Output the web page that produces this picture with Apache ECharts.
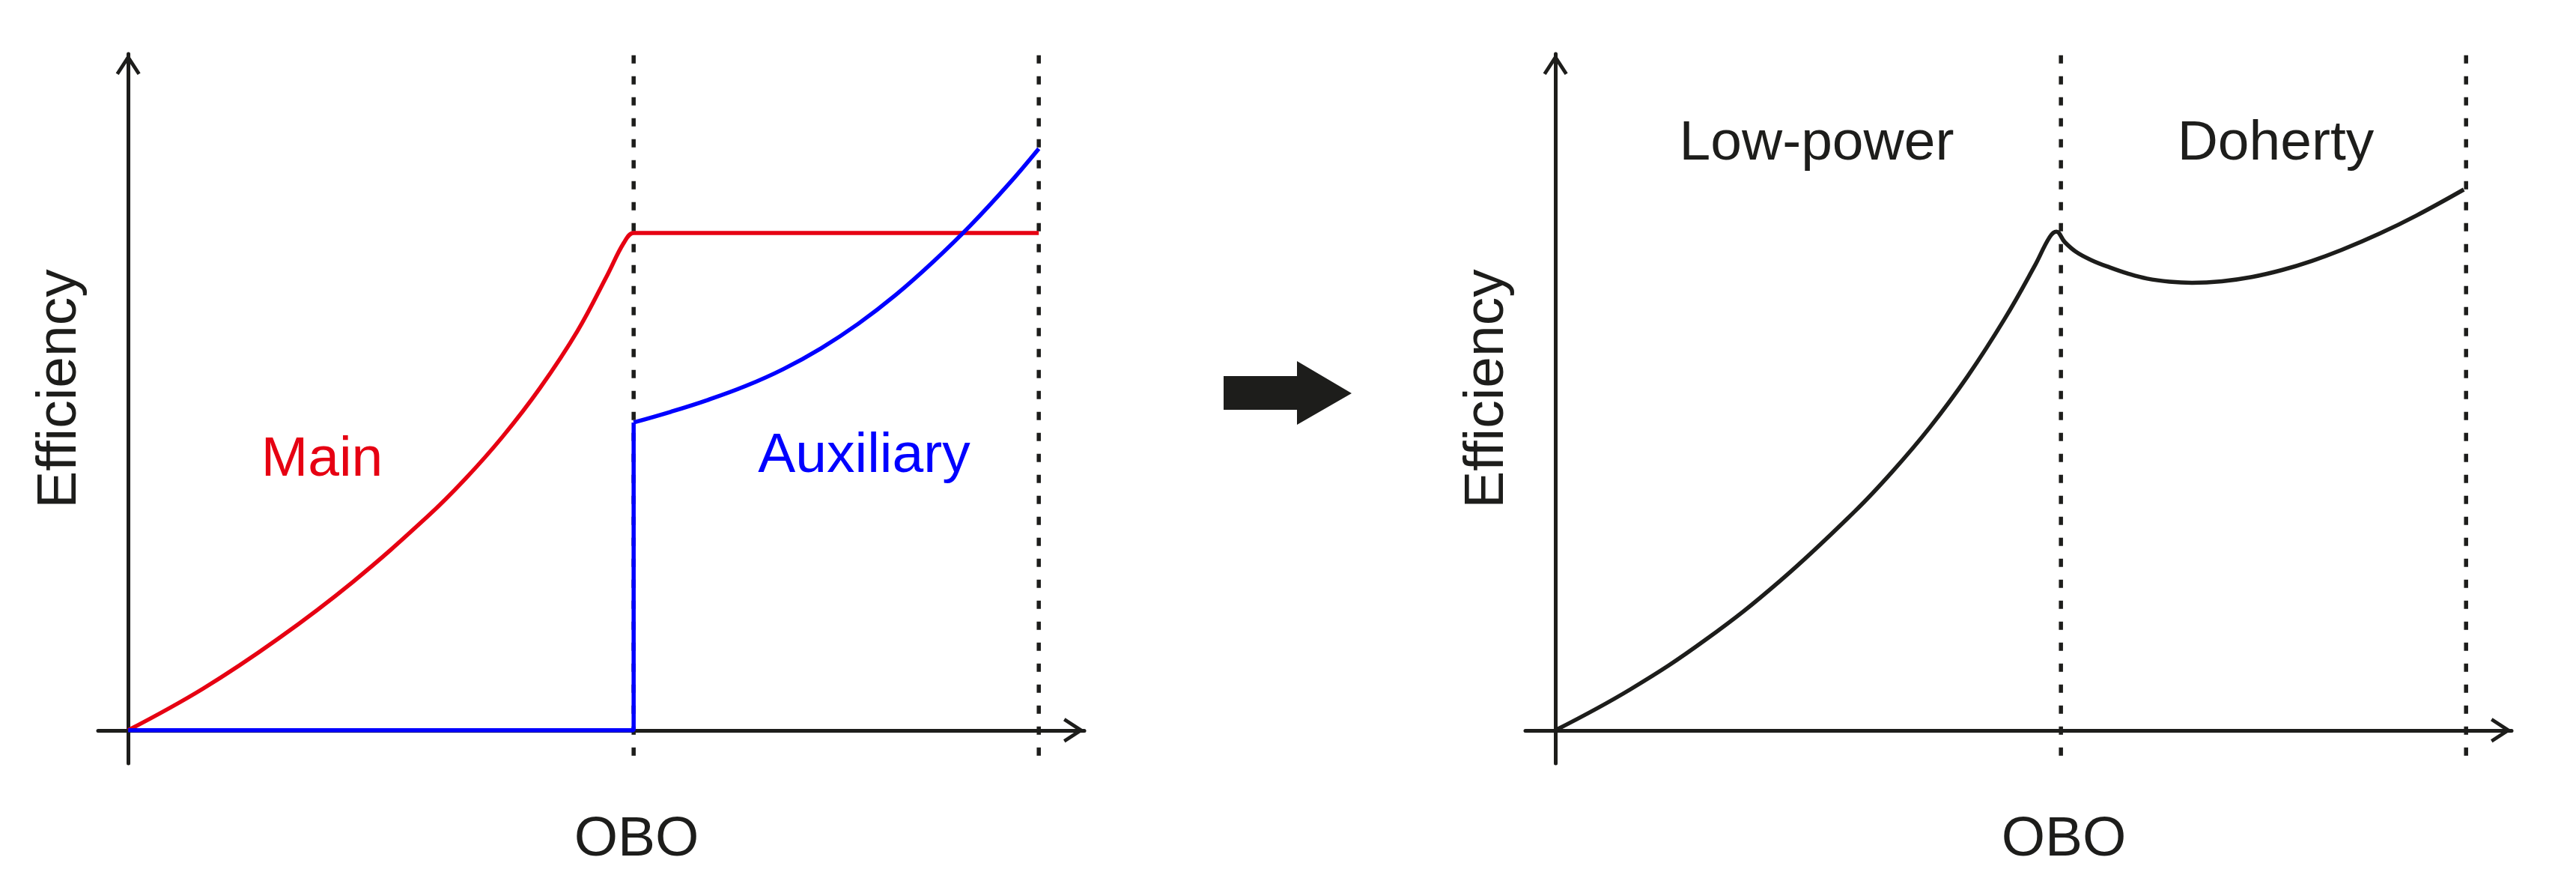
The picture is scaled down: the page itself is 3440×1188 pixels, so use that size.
<!DOCTYPE html>
<html style="height: 100%">
	<head>
		<meta charset="utf-8" />
		<title>Doherty efficiency</title>
		<script type="text/javascript" src="https://cdn.jsdelivr.net/npm/echarts@6/dist/echarts.min.js"></script>
	</head>
	<body style="height: 100%; margin: 0; background: #fff;">
		<div id="container" style="width: 3440px; height: 1188px"></div>
		<script type="text/javascript">
			// values (x = OBO, y = efficiency, arbitrary units)
			var mainX = [0, 8.22, 16.45, 24.67, 32.89, 37.01, 41.12, 45.23, 49.34, 52.63, 54.44, 55.51, 57.0, 100];
			var mainY = [0, 6.15, 13.51, 21.93, 31.62, 37.15, 43.41, 50.61, 59.03, 67.33, 72.09, 73.53, 73.53, 73.53];
			var auxOffX = [0, 55.51, 55.51];
			var auxOffY = [0, 0, 45.51];
			var auxX = [55.51, 59.62, 63.73, 67.85, 71.96, 76.07, 80.18, 84.29, 88.40, 92.52, 96.63, 100];
			var auxY = [45.51, 47.10, 48.87, 50.92, 53.41, 56.46, 60.11, 64.37, 69.26, 74.67, 80.65, 86.0];
			var dohX = [0, 8.22, 16.45, 24.67, 32.89, 37.01, 41.12, 45.23, 49.34, 52.63, 54.28, 55.02,
				55.92, 57.15, 58.80, 60.86, 62.91, 64.97, 67.43, 69.90, 73.19, 76.48, 79.77, 83.06, 86.35, 90.46, 94.57, 99.75];
			var dohY = [0, 6.04, 13.34, 22.09, 32.39, 38.26, 44.79, 52.27, 60.85, 68.66, 72.93, 73.72,
				72.20, 70.76, 69.55, 68.44, 67.50, 66.78, 66.33, 66.17, 66.39, 67.02, 68.04, 69.39, 71.03, 73.41, 76.12, 79.95];
			var regionEdges = [55.51, 100];
			var dashTop = 99.8;
			var dashBottom = -4.9;

			var ink = '#1d1d1b';
			var red = '#e60012';
			var blue = '#0000ff';
			var font = "'Liberation Sans', Arial, sans-serif";
			var chevron = 'path://M16.5,0 L33,25.5 L29,28 L16.5,9 L4,28 L0,25.5 Z';

			function pairs(xs, ys) {
				var out = [];
				for (var i = 0; i < xs.length; i++) out.push([xs[i], ys[i]]);
				return out;
			}

			function axisLine() {
				return { show: true, onZero: true, symbol: ['none', chevron], symbolSize: [33, 28], symbolOffset: [0, -14],
					lineStyle: { color: ink, width: 5 } };
			}
			function xAx(idx) {
				return {
					type: 'value', gridIndex: idx, min: -3.3, max: 105, axisLine: axisLine(),
					axisTick: { show: false }, axisLabel: { show: false }, splitLine: { show: false }
				};
			}
			function yAx(idx) {
				return {
					type: 'value', gridIndex: idx, min: dashBottom, max: 100, axisLine: axisLine(),
					axisTick: { show: false }, axisLabel: { show: false }, splitLine: { show: false }
				};
			}
			function dashed(idx, x) {
				return {
					type: 'line', xAxisIndex: idx, yAxisIndex: idx, symbol: 'none', silent: true,
					data: [[x, dashTop], [x, dashBottom]],
					lineStyle: { color: ink, width: 5.5, type: [11, 17] }
				};
			}
			function curve(idx, data, color, smooth) {
				return {
					type: 'line', xAxisIndex: idx, yAxisIndex: idx, symbol: 'none', smooth: smooth,
					data: data, lineStyle: { color: color, width: 5.5 }
				};
			}
			function label(text, x, y, color, rot) {
				return {
					type: 'text', x: x, y: y, rotation: rot || 0,
					style: { text: text, fill: color, font: '75px ' + font, align: 'center', verticalAlign: 'middle' }
				};
			}

			var dom = document.getElementById('container');
			var myChart = echarts.init(dom);
			var option = {
				animation: false,
				backgroundColor: '#fff',
				grid: [
					{ left: 131, top: 72, width: 1317, height: 947 },
					{ left: 2037, top: 72, width: 1317, height: 947 }
				],
				xAxis: [xAx(0), xAx(1)],
				yAxis: [yAx(0), yAx(1)],
				series: [
					dashed(0, regionEdges[0]),
					dashed(0, regionEdges[1]),
					curve(0, pairs(mainX, mainY), red, 0.4),
					curve(0, pairs(auxOffX, auxOffY), blue, false),
					curve(0, pairs(auxX, auxY), blue, 0.4),
					dashed(1, regionEdges[0]),
					dashed(1, regionEdges[1]),
					curve(1, pairs(dohX, dohY), ink, 0.4)
				],
				graphic: [
					label('Efficiency', 80, 519, ink, Math.PI / 2),
					label('OBO', 850, 1121, ink),
					label('Main', 430, 614, red),
					label('Auxiliary', 1154, 609, blue),
					label('Efficiency', 1986, 519, ink, Math.PI / 2),
					label('OBO', 2756, 1121, ink),
					label('Low-power', 2426, 192, ink),
					label('Doherty', 3039, 192, ink),
					{
						type: 'polygon',
						shape: { points: [[1634, 502], [1732, 502], [1732, 482], [1805, 525], [1732, 567], [1732, 547], [1634, 547]] },
						style: { fill: ink }
					}
				]
			};
			myChart.setOption(option, true);
		</script>
	</body>
</html>
